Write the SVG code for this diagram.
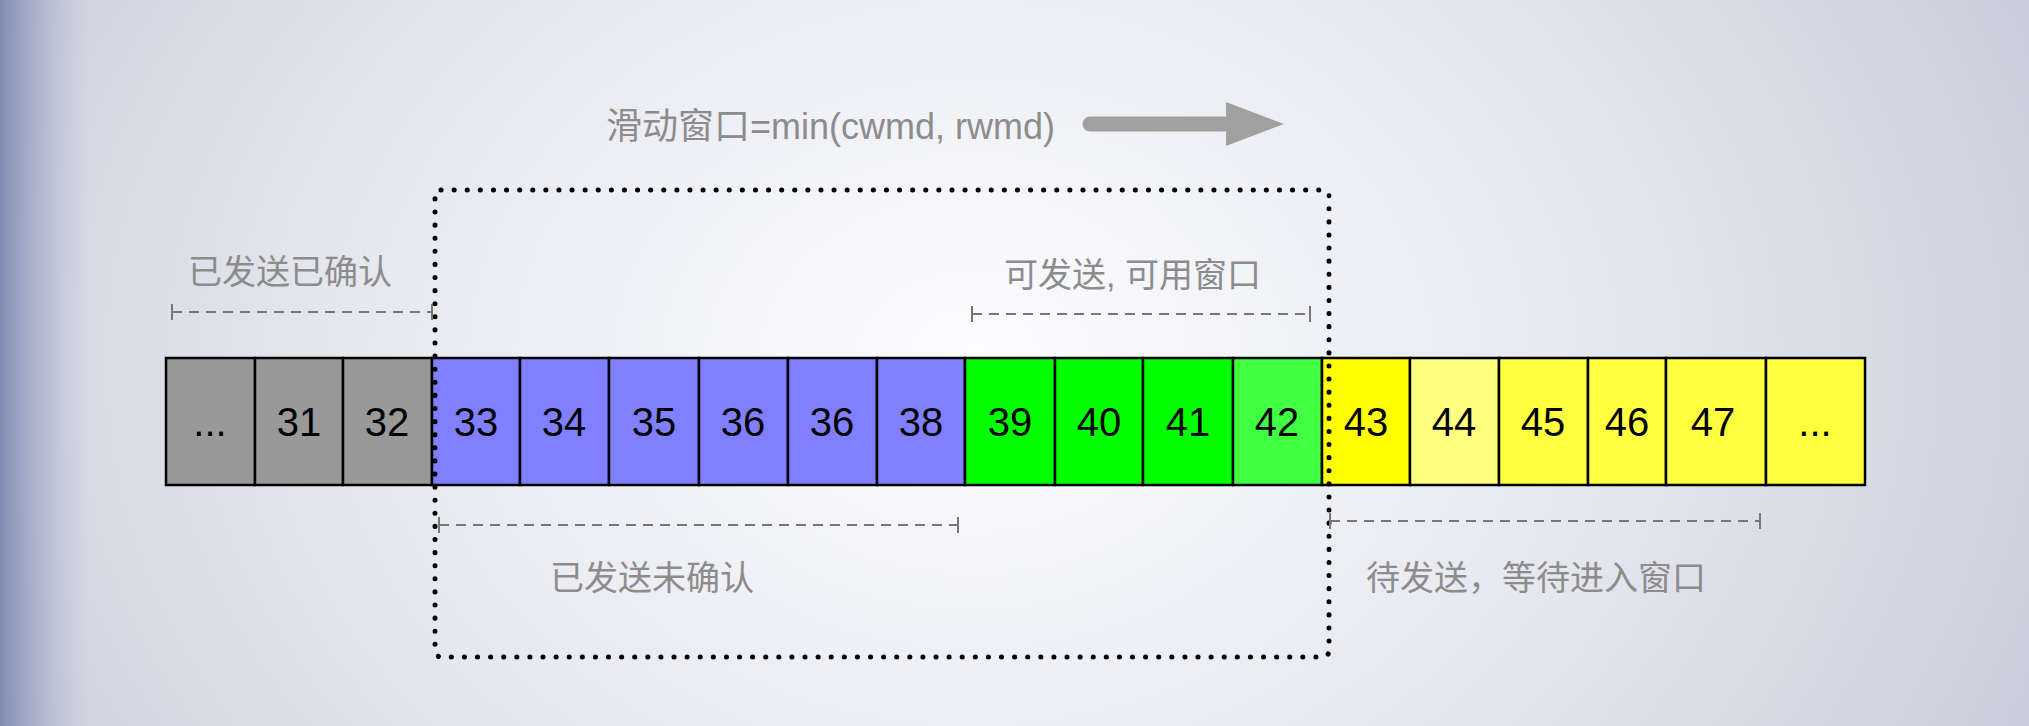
<svg xmlns="http://www.w3.org/2000/svg" width="2029" height="726" viewBox="0 0 2029 726">
<defs>
<radialGradient id="bg" cx="0.48" cy="0.5" r="0.62" gradientTransform="translate(0.48 0.5) scale(1 2.2) translate(-0.48 -0.5)">
<stop offset="0" stop-color="#fdfdff"/>
<stop offset="0.5" stop-color="#e6e8ef"/>
<stop offset="1" stop-color="#c3c8d8"/>
</radialGradient>
<linearGradient id="edge" x1="0" y1="0" x2="1" y2="0">
<stop offset="0" stop-color="#7b88b0" stop-opacity="0.95"/>
<stop offset="1" stop-color="#aeb5cc" stop-opacity="0"/>
</linearGradient>
<style>
.c{stroke:#000;stroke-width:2.5}
.n{font-family:"Liberation Sans",Arial,sans-serif;font-size:40px;fill:#000;text-anchor:middle}
.l{font-family:"Liberation Sans","Noto Sans CJK SC",sans-serif;font-size:34px;fill:#8c8c8c}
.d{stroke:#777;stroke-width:2;fill:none}
.dd{stroke-dasharray:10 7}
</style>
</defs>
<rect width="2029" height="726" fill="url(#bg)"/>
<rect width="90" height="726" fill="url(#edge)"/>

<g id="cells">
<g id="c0"><rect class="c" x="166" y="358" width="89" height="127" fill="#999999"/><text class="n" x="210" y="436">...</text></g>
<g id="c31"><rect class="c" x="255" y="358" width="88" height="127" fill="#999999"/><text class="n" x="299" y="436">31</text></g>
<g id="c32"><rect class="c" x="343" y="358" width="89" height="127" fill="#999999"/><text class="n" x="387" y="436">32</text></g>
<g id="c33"><rect class="c" x="432" y="358" width="88" height="127" fill="#8080FF"/><text class="n" x="476" y="436">33</text></g>
<g id="c34"><rect class="c" x="520" y="358" width="89" height="127" fill="#8080FF"/><text class="n" x="564" y="436">34</text></g>
<g id="c35"><rect class="c" x="609" y="358" width="90" height="127" fill="#8080FF"/><text class="n" x="654" y="436">35</text></g>
<g id="c36"><rect class="c" x="699" y="358" width="89" height="127" fill="#8080FF"/><text class="n" x="743" y="436">36</text></g>
<g id="c36b"><rect class="c" x="788" y="358" width="89" height="127" fill="#8080FF"/><text class="n" x="832" y="436">36</text></g>
<g id="c38"><rect class="c" x="877" y="358" width="88" height="127" fill="#8080FF"/><text class="n" x="921" y="436">38</text></g>
<g id="c39"><rect class="c" x="965" y="358" width="90" height="127" fill="#00FF00"/><text class="n" x="1010" y="436">39</text></g>
<g id="c40"><rect class="c" x="1055" y="358" width="88" height="127" fill="#00FF00"/><text class="n" x="1099" y="436">40</text></g>
<g id="c41"><rect class="c" x="1143" y="358" width="90" height="127" fill="#00FF00"/><text class="n" x="1188" y="436">41</text></g>
<g id="c42"><rect class="c" x="1233" y="358" width="89" height="127" fill="#40FF40"/><text class="n" x="1277" y="436">42</text></g>
<g id="c43"><rect class="c" x="1322" y="358" width="88" height="127" fill="#FFFF00"/><text class="n" x="1366" y="436">43</text></g>
<g id="c44"><rect class="c" x="1410" y="358" width="89" height="127" fill="#FFFF80"/><text class="n" x="1454" y="436">44</text></g>
<g id="c45"><rect class="c" x="1499" y="358" width="89" height="127" fill="#FFFF40"/><text class="n" x="1543" y="436">45</text></g>
<g id="c46"><rect class="c" x="1588" y="358" width="78" height="127" fill="#FFFF40"/><text class="n" x="1627" y="436">46</text></g>
<g id="c47"><rect class="c" x="1666" y="358" width="100" height="127" fill="#FFFF40"/><text class="n" x="1713" y="436">47</text></g>
<g id="c48"><rect class="c" x="1766" y="358" width="99" height="127" fill="#FFFF40"/><text class="n" x="1815" y="436">...</text></g>
</g>

<g id="window">
<rect x="435" y="190" width="894" height="467" rx="6" fill="none" stroke="#000" stroke-width="5" stroke-linecap="round" stroke-dasharray="0.1 13"/>
</g>

<g id="title">
<text class="l" x="606" y="139" style="font-size:36px">滑动窗口=min(cwmd, rwmd)</text>
<line x1="1090" y1="124" x2="1240" y2="124" stroke="#a0a0a0" stroke-width="15" stroke-linecap="round"/>
<polygon points="1226,102 1284,124 1226,146" fill="#a0a0a0"/>
</g>

<g id="connectors">
<g id="dim1"><line class="d dd" x1="172" y1="312" x2="432" y2="312"/><line class="d" x1="172" y1="304" x2="172" y2="320"/><line class="d" x1="432" y1="304" x2="432" y2="320"/></g>
<g id="dim2"><line class="d dd" x1="972" y1="314" x2="1310" y2="314"/><line class="d" x1="972" y1="306" x2="972" y2="322"/><line class="d" x1="1310" y1="306" x2="1310" y2="322"/></g>
<g id="dim3"><line class="d dd" x1="439" y1="525" x2="958" y2="525"/><line class="d" x1="439" y1="517" x2="439" y2="533"/><line class="d" x1="958" y1="517" x2="958" y2="533"/></g>
<g id="dim4"><line class="d dd" x1="1330" y1="521" x2="1760" y2="521"/><line class="d" x1="1330" y1="513" x2="1330" y2="529"/><line class="d" x1="1760" y1="513" x2="1760" y2="529"/></g>
</g>

<g id="labels">
<text class="l" x="188" y="284">已发送已确认</text>
<text class="l" x="1004" y="287">可发送, 可用窗口</text>
<text class="l" x="550" y="590">已发送未确认</text>
<text class="l" x="1366" y="590">待发送，等待进入窗口</text>
</g>
</svg>
